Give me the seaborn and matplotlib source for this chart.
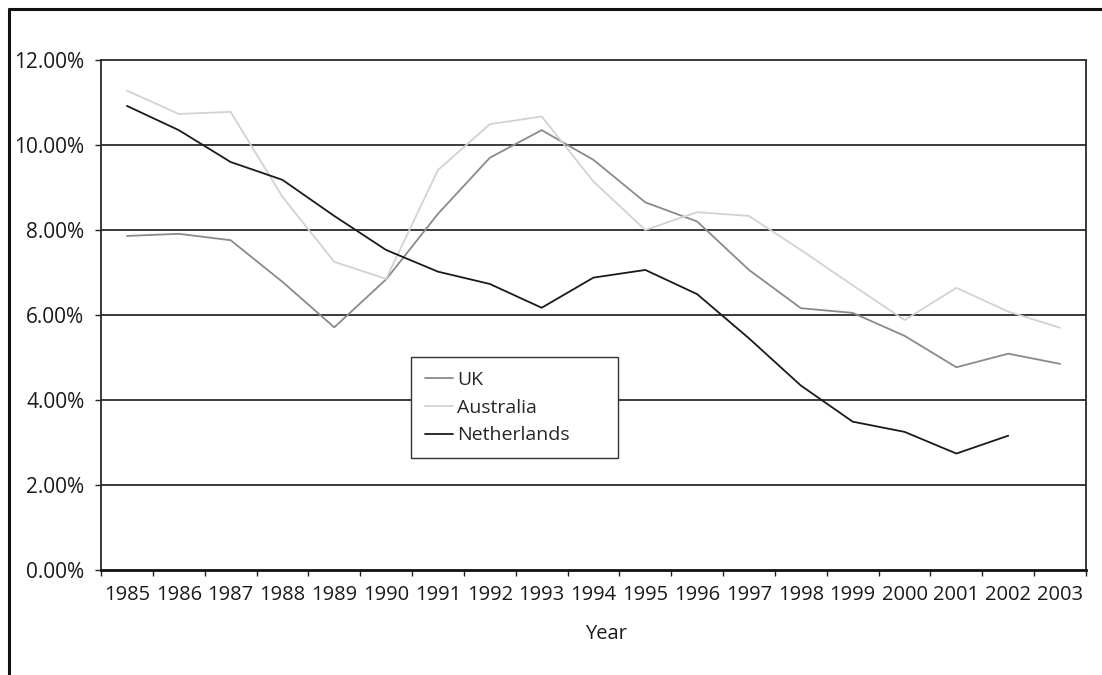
import matplotlib
matplotlib.use("Agg")
import matplotlib.pyplot as plt
from matplotlib.lines import Line2D
from matplotlib.ticker import FixedLocator, PercentFormatter
import numpy as np
import pandas as pd
import seaborn as sns

years = list(range(1985, 2004))
uk = [7.86, 7.91, 7.76, 6.78, 5.71, 6.84, 8.38, 9.70, 10.35, 9.65,
      8.65, 8.20, 7.06, 6.16, 6.05, 5.51, 4.77, 5.09, 4.85]
australia = [11.28, 10.73, 10.78, 8.78, 7.25, 6.85, 9.41, 10.49, 10.67, 9.14,
             8.00, 8.42, 8.33, 7.53, 6.70, 5.88, 6.64, 6.08, 5.70]
netherlands = [10.92, 10.35, 9.60, 9.18, 8.33, 7.53, 7.02, 6.73, 6.17, 6.88,
               7.06, 6.49, 5.45, 4.34, 3.49, 3.25, 2.74, 3.16, np.nan]
series_names = ["UK", "Australia", "Netherlands"]
series_colors = ["#8a8a8a", "#d2d2d2", "#1a1a1a"]
y_ticks = [0, 2, 4, 6, 8, 10, 12]

df = pd.DataFrame({
    "Year": years * 3,
    "Rate": uk + australia + netherlands,
    "Country": [n for n in series_names for _ in years],
})

sns.set_theme(style="white")
plt.rcParams["font.family"] = ["Open Sans", "DejaVu Sans"]

fig = plt.figure(figsize=(11.02, 6.75), dpi=100)
ax = fig.add_axes([101 / 1102, 1 - 570 / 675, 985 / 1102, 510 / 675])

sns.lineplot(data=df, x="Year", y="Rate", hue="Country", hue_order=series_names,
             palette=dict(zip(series_names, series_colors)), linewidth=1.3,
             ax=ax, legend=False, zorder=3)

ax.set_xlim(years[0] - 0.5, years[-1] + 0.5)
ax.set_ylim(0, 12)

# y axis: percentage labels and horizontal grid lines
ax.set_yticks(y_ticks)
ax.yaxis.set_major_formatter(PercentFormatter(decimals=2))
for v in y_ticks[1:-1]:
    ax.axhline(v, color="#2a2a2a", lw=1.3, zorder=1)

# x axis: ticks between categories, labels centred on each year
ax.xaxis.set_major_locator(FixedLocator(np.arange(years[0] - 0.5, years[-1] + 1.0, 1.0)))
ax.xaxis.set_minor_locator(FixedLocator(years))
ax.set_xticklabels([])
ax.set_xticklabels([str(y) for y in years], minor=True)
ax.tick_params(axis="x", which="major", direction="out", length=4, width=1, color="#222222", bottom=True)
ax.tick_params(axis="x", which="minor", length=0, labelsize=14.5, pad=11, colors="#1a1a1a", bottom=True)
ax.tick_params(axis="y", which="major", direction="out", length=4, width=1, color="#222222",
               labelsize=15, pad=8, labelcolor="#1a1a1a", left=True)

for side in ["top", "right", "left"]:
    ax.spines[side].set_color("#2a2a2a")
    ax.spines[side].set_linewidth(1.3)
ax.spines["bottom"].set_color("#111111")
ax.spines["bottom"].set_linewidth(2.0)

ax.set_xlabel("Year", fontsize=14.5, color="#1a1a1a")
ax.xaxis.set_label_coords(0.513, -0.106)
ax.set_ylabel("")

handles = [Line2D([], [], color=c, lw=1.3) for c in series_colors]
leg_w = (618 - 411) / 985
leg_h = (456 - 357) / 510
leg = ax.legend(handles, series_names, loc="upper left",
                bbox_to_anchor=(0.3147, 0.4176 - leg_h, leg_w, leg_h), mode="expand",
                frameon=True, fancybox=False, framealpha=1, edgecolor="#333333",
                fontsize=14, handlelength=1.45, handletextpad=0.2, labelspacing=0.5,
                borderpad=0.72, borderaxespad=0)
leg.get_frame().set_linewidth(1.0)
leg.set_zorder(5)

# outer frame around the figure
fig.add_artist(Line2D([9 / 1102, 1.0], [1 - 9 / 675, 1 - 9 / 675], color="#111111", lw=2.2,
                      transform=fig.transFigure))
fig.add_artist(Line2D([9 / 1102, 9 / 1102], [0.0, 1 - 9 / 675], color="#111111", lw=2.2,
                      transform=fig.transFigure))

fig.savefig("out.png", dpi=100)
